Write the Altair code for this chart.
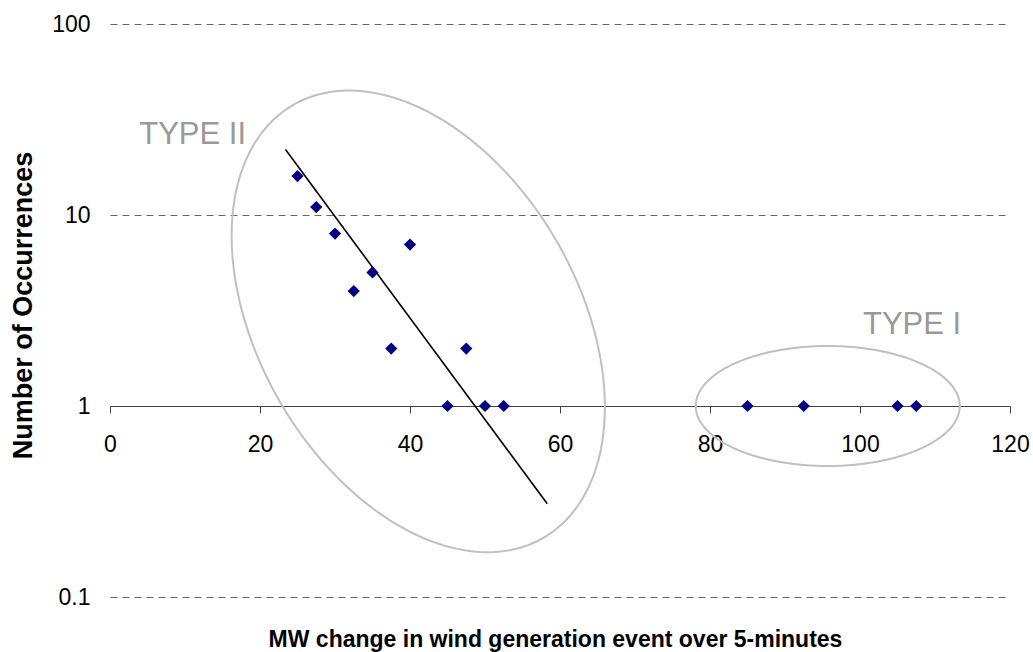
import altair as alt
import numpy as np
import pandas as pd

# ---- data ----
mw_change = [25, 27.5, 30, 32.5, 35, 37.5, 40, 45, 47.5, 50, 52.5, 85, 92.5, 105, 107.5]
occurrences = [16, 11, 8, 4, 5, 2, 7, 1, 2, 1, 1, 1, 1, 1, 1]

trend_x = [23.4, 58.3]
trend_y = [22.0, 0.308]

x_ticks = [0, 20, 40, 60, 80, 100, 120]
y_ticks = [0.1, 1, 10, 100]

type_labels = ["TYPE II", "TYPE I"]
type_label_x = [3.9, 100.4]
type_label_y = [23.4, 2.37]

# ellipse annotations: name, centre x (MW), centre log10(y), semi-axes (px), tilt (deg)
ell_names = ["TYPE II", "TYPE I"]
ell_cx = [41.1, 95.7]
ell_clog = [0.443, 0.0]
ell_a = [250, 132]
ell_b = [160, 60]
ell_tilt = [60, 0]

# ---- layout ----
W, H = 900, 573
X_MAX = 120
DECADES = 3
px_x = W / X_MAX
px_dec = H / DECADES

points = pd.DataFrame({"x": mw_change, "y": occurrences})
trend = pd.DataFrame({"x": trend_x, "y": trend_y})
labels = pd.DataFrame({"x": type_label_x, "y": type_label_y, "t": type_labels})

rows = []
t = np.linspace(0, 2 * np.pi, 241)
for name, cx, cl, a, b, tilt in zip(ell_names, ell_cx, ell_clog, ell_a, ell_b, ell_tilt):
    th = np.radians(tilt)
    dx = a * np.cos(t) * np.cos(th) - b * np.sin(t) * np.sin(th)
    dy = a * np.cos(t) * np.sin(th) + b * np.sin(t) * np.cos(th)
    for i, (ddx, ddy) in enumerate(zip(dx, dy)):
        rows.append({"e": name, "i": i, "x": cx + ddx / px_x, "y": 10 ** (cl - ddy / px_dec)})
ellipses = pd.DataFrame(rows)

FONT = "Liberation Sans"

x_enc = alt.X(
    "x:Q",
    scale=alt.Scale(domain=[0, 120], nice=False, zero=False),
    axis=alt.Axis(
        values=x_ticks,
        format="d",
        offset=-H / DECADES,
        grid=False,
        domainColor="#444",
        domainWidth=1,
        tickColor="#444",
        tickSize=7,
        labelPadding=38,
        labelBaseline="alphabetic",
        labelFont=FONT,
        labelFontSize=23,
        labelColor="#000",
        labelFlush=False,
        title="MW change in wind generation event over 5-minutes",
        titleFont=FONT,
        titleFontSize=23,
        titleFontWeight="bold",
        titleColor="#000",
        titleBaseline="alphabetic",
        titleX=445,
        titleY=240,
    ),
)
y_enc = alt.Y(
    "y:Q",
    scale=alt.Scale(type="log", domain=[0.1, 100], nice=False),
    axis=alt.Axis(
        values=y_ticks,
        format="~g",
        domain=False,
        ticks=False,
        tickSize=0,
        grid=True,
        gridColor="#666",
        gridDash=[7, 5],
        gridWidth=1,
        labelPadding=20,
        labelFont=FONT,
        labelFontSize=23,
        labelColor="#000",
        labelFlush=False,
        title="Number of Occurrences",
        titleFont=FONT,
        titleFontSize=27,
        titleFontWeight="bold",
        titleColor="#000",
        titleAngle=270,
        titleBaseline="alphabetic",
        titleX=-79,
        titleY=281,
    ),
)

ell_layer = alt.Chart(ellipses).mark_line(color="#c0c0c0", strokeWidth=2, clip=False).encode(
    x=x_enc, y=y_enc, detail="e:N", order="i:Q"
)
trend_layer = alt.Chart(trend).mark_line(color="#000", strokeWidth=1.6).encode(x=x_enc, y=y_enc)
point_layer = alt.Chart(points).mark_point(
    shape="diamond", filled=True, color="#000080", size=150, opacity=1
).encode(x=x_enc, y=y_enc)
label_layer = alt.Chart(labels).mark_text(
    font=FONT, fontSize=31, color="#999999", align="left", baseline="alphabetic"
).encode(x=x_enc, y=y_enc, text="t:N")

chart = (
    alt.layer(ell_layer, trend_layer, point_layer, label_layer)
    .properties(
        width=W,
        height=H,
        autosize=alt.AutoSizeParams(type="none"),
        padding={"left": 110, "top": 24, "right": 23, "bottom": 55},
        background="white",
    )
    .configure_view(strokeWidth=0)
)

chart.save("out.html", embed_options={"renderer": "svg", "actions": False})
